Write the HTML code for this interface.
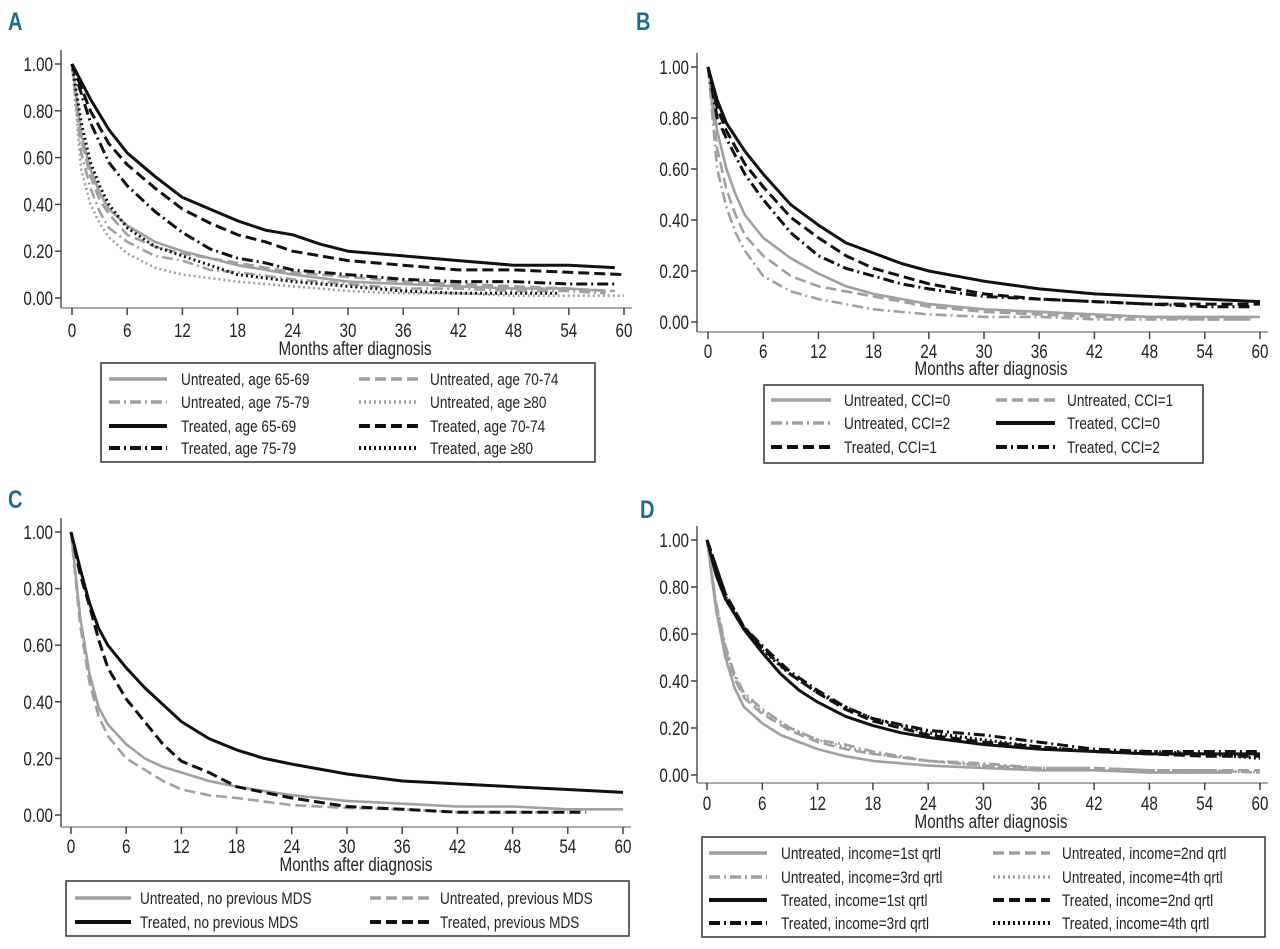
<!DOCTYPE html>
<html><head><meta charset="utf-8"><style>
html,body{margin:0;padding:0;background:#fff;}
svg{display:block;font-family:"Liberation Sans Narrow","Liberation Sans",sans-serif;}
</style></head><body>
<svg id="fig" width="1280" height="949" viewBox="0 0 1280 949" xmlns="http://www.w3.org/2000/svg"></svg>
<script>
// ---------- data: months and survival values per series ----------
const xTickLabels = ["0","6","12","18","24","30","36","42","48","54","60"];
const yTickLabels = ["0.00","0.20","0.40","0.60","0.80","1.00"];

// Panel A (age)
const aU6569M = [0,1,2,3,4,6,9,12,15,18,24,30,36,42,48,54,58];
const aU6569V = [1,.70,.55,.45,.38,.31,.24,.20,.17,.14,.10,.07,.06,.05,.04,.04,.03];
const aU7074M = [0,1,2,3,4,6,9,12,18,24,30,36,42,48,54,59];
const aU7074V = [1,.68,.52,.42,.36,.27,.22,.19,.15,.11,.09,.07,.06,.05,.04,.03];
const aU7579M = [0,1,2,3,4,6,9,12,15,18,24,30,36,42,48,54,58];
const aU7579V = [1,.62,.47,.37,.30,.24,.18,.16,.12,.11,.08,.06,.04,.04,.03,.03,.02];
const aU80M = [0,1,2,3,4,6,9,12,18,24,30,36,42,48,54,60];
const aU80V = [1,.55,.40,.32,.26,.19,.13,.10,.07,.05,.03,.02,.02,.01,.01,.01];
const aT6569M = [0,2,4,6,9,12,15,18,21,24,27,30,36,42,48,54,59];
const aT6569V = [1,.85,.72,.62,.52,.43,.38,.33,.29,.27,.23,.20,.18,.16,.14,.14,.13];
const aT7074M = [0,2,4,6,9,12,15,18,21,24,30,36,42,48,54,60];
const aT7074V = [1,.80,.66,.57,.47,.38,.32,.27,.24,.20,.16,.14,.12,.12,.11,.10];
const aT7579M = [0,2,4,6,9,12,15,18,21,24,30,36,42,48,54,59];
const aT7579V = [1,.75,.58,.48,.37,.28,.21,.17,.15,.12,.10,.08,.07,.07,.06,.06];
const aT80M = [0,1,2,3,4,6,9,12,15,18,24,30,36,42,48,53];
const aT80V = [1,.75,.58,.48,.40,.30,.22,.18,.14,.10,.07,.05,.03,.02,.02,.02];

// Panel B (CCI)
const bU0M = [0,1,2,3,4,6,9,12,15,18,24,30,36,42,48,54,60];
const bU0V = [1,.75,.60,.50,.42,.33,.25,.19,.14,.11,.07,.05,.04,.03,.02,.02,.02];
const bU1M = [0,1,2,3,4,6,9,12,18,24,30,36,42,48,54,59];
const bU1V = [1,.68,.52,.42,.34,.26,.18,.14,.10,.06,.04,.03,.02,.02,.01,.01];
const bU2M = [0,1,2,3,4,6,9,12,18,24,30,36,42,48,54,58];
const bU2V = [1,.60,.45,.35,.28,.18,.12,.09,.05,.03,.02,.02,.01,.01,.01,.01];
const bT0M = [0,1,2,4,6,9,12,15,18,21,24,30,36,42,48,54,60];
const bT0V = [1,.87,.78,.67,.58,.46,.38,.31,.27,.23,.20,.16,.13,.11,.10,.09,.08];
const bT1M = [0,1,2,4,6,9,12,15,18,21,24,30,36,42,48,54,60];
const bT1V = [1,.84,.75,.62,.53,.41,.33,.26,.21,.18,.15,.11,.09,.08,.07,.07,.07];
const bT2M = [0,1,2,4,6,9,12,15,18,21,24,30,36,42,48,54,59];
const bT2V = [1,.80,.72,.58,.48,.35,.26,.21,.18,.15,.13,.10,.09,.08,.07,.06,.06];

// Panel C (previous MDS)
const cUnoM = [0,1,2,3,4,6,8,10,12,15,18,24,30,36,42,48,54,60];
const cUnoV = [1,.70,.50,.38,.32,.25,.20,.17,.15,.12,.10,.07,.05,.04,.03,.03,.02,.02];
const cUprM = [0,1,2,3,4,6,8,10,12,15,18,24,30,36,42,48,54];
const cUprV = [1,.67,.47,.35,.28,.20,.16,.12,.09,.07,.06,.035,.025,.02,.01,.01,.01];
const cTnoM = [0,1,2,3,4,6,8,10,12,15,18,21,24,30,36,42,48,54,60];
const cTnoV = [1,.87,.75,.66,.60,.52,.45,.39,.33,.27,.23,.20,.18,.145,.12,.11,.10,.09,.08];
const cTprM = [0,1,2,3,4,6,8,10,12,15,18,21,24,30,36,42,48,56];
const cTprV = [1,.85,.74,.62,.52,.41,.33,.25,.19,.15,.10,.08,.06,.03,.02,.01,.01,.01];

// Panel D (income)
const dU1M = [0,1,2,3,4,6,8,10,12,15,18,21,24,30,36,42,48,54,57];
const dU1V = [1,.70,.50,.37,.29,.22,.17,.14,.11,.08,.06,.05,.04,.03,.02,.02,.01,.01,.01];
const dU2M = [0,1,2,3,4,6,9,12,15,18,24,30,36,42,48,54,60];
const dU2V = [1,.72,.53,.41,.33,.26,.19,.14,.11,.09,.06,.04,.03,.03,.02,.02,.02];
const dU3M = [0,1,2,3,4,6,9,12,15,18,24,30,36,42,48,54,60];
const dU3V = [1,.73,.55,.43,.35,.28,.20,.15,.13,.10,.06,.05,.03,.03,.02,.02,.01];
const dU4M = [0,1,2,3,4,6,9,12,18,24,30,36,42,48,54,60];
const dU4V = [1,.72,.54,.42,.34,.27,.20,.15,.09,.06,.04,.03,.02,.02,.02,.01];
const dT1M = [0,1,2,4,6,8,10,12,15,18,21,24,30,36,42,48,54,60];
const dT1V = [1,.85,.75,.62,.52,.43,.36,.31,.25,.21,.18,.16,.13,.11,.10,.09,.09,.09];
const dT2M = [0,2,4,6,9,12,15,18,24,30,36,42,48,54,60];
const dT2V = [1,.77,.63,.54,.43,.35,.28,.23,.17,.14,.12,.10,.09,.08,.08];
const dT3M = [0,2,4,6,9,12,15,18,24,30,36,42,48,54,60];
const dT3V = [1,.77,.63,.55,.44,.36,.29,.24,.19,.17,.14,.11,.10,.10,.10];
const dT4M = [0,2,4,6,9,12,15,18,24,30,36,42,48,54,60];
const dT4V = [1,.76,.62,.53,.43,.35,.29,.24,.18,.15,.12,.10,.10,.09,.07];

// ---------- styles ----------
const GRAY = "#a0a0a0", BLACK = "#111";
const ST = { solid:"", dash:"11 5", dashdot:"11 4 2 4", dot:"2 3" };
const CONDENSE = 0.8;

const panels = [
 {key:"a", letter:"A", lx:8, ly:30, axX:61, ox:72, ex:624, y0:298, y1:64, axY:308,
  tickLY:337, titleY:355, titleX:355,
  leg:{x:101,y:363,w:494,h:99, rows:[379,402,426,448], s1:[109,167], t1:181, s2:[359,418], t2:430},
  series:[
   ["untreated-age-65-69","Untreated, age 65-69",GRAY,"solid",aU6569M,aU6569V],
   ["untreated-age-70-74","Untreated, age 70-74",GRAY,"dash",aU7074M,aU7074V],
   ["untreated-age-75-79","Untreated, age 75-79",GRAY,"dashdot",aU7579M,aU7579V],
   ["untreated-age-80plus","Untreated, age \u226580",GRAY,"dot",aU80M,aU80V],
   ["treated-age-65-69","Treated, age 65-69",BLACK,"solid",aT6569M,aT6569V],
   ["treated-age-70-74","Treated, age 70-74",BLACK,"dash",aT7074M,aT7074V],
   ["treated-age-75-79","Treated, age 75-79",BLACK,"dashdot",aT7579M,aT7579V],
   ["treated-age-80plus","Treated, age \u226580",BLACK,"dot",aT80M,aT80V]]},
 {key:"b", letter:"B", lx:636, ly:30, axX:697, ox:708, ex:1260, y0:322, y1:67, axY:332,
  tickLY:358, titleY:375, titleX:991,
  leg:{x:764,y:385,w:439,h:78, rows:[400,423,447], s1:[771,831], t1:844, s2:[996,1055], t2:1067},
  series:[
   ["untreated-cci-0","Untreated, CCI=0",GRAY,"solid",bU0M,bU0V],
   ["untreated-cci-1","Untreated, CCI=1",GRAY,"dash",bU1M,bU1V],
   ["untreated-cci-2","Untreated, CCI=2",GRAY,"dashdot",bU2M,bU2V],
   ["treated-cci-0","Treated, CCI=0",BLACK,"solid",bT0M,bT0V],
   ["treated-cci-1","Treated, CCI=1",BLACK,"dash",bT1M,bT1V],
   ["treated-cci-2","Treated, CCI=2",BLACK,"dashdot",bT2M,bT2V]]},
 {key:"c", letter:"C", lx:8, ly:508, axX:61, ox:71, ex:623, y0:815, y1:532, axY:827,
  tickLY:853, titleY:871, titleX:356,
  leg:{x:66,y:881,w:563,h:55, rows:[898,922], s1:[75,131], t1:140, s2:[370,429], t2:440},
  series:[
   ["untreated-no-previous-mds","Untreated, no previous MDS",GRAY,"solid",cUnoM,cUnoV],
   ["untreated-previous-mds","Untreated, previous MDS",GRAY,"dash",cUprM,cUprV],
   ["treated-no-previous-mds","Treated, no previous MDS",BLACK,"solid",cTnoM,cTnoV],
   ["treated-previous-mds","Treated, previous MDS",BLACK,"dash",cTprM,cTprV]]},
 {key:"d", letter:"D", lx:640, ly:518, axX:697, ox:707, ex:1260, y0:775, y1:540, axY:783,
  tickLY:810, titleY:828, titleX:991,
  leg:{x:702,y:837,w:563,h:100, rows:[853,877,900,923], s1:[709,767], t1:781, s2:[993,1050], t2:1062},
  series:[
   ["untreated-income-q1","Untreated, income=1st qrtl",GRAY,"solid",dU1M,dU1V],
   ["untreated-income-q2","Untreated, income=2nd qrtl",GRAY,"dash",dU2M,dU2V],
   ["untreated-income-q3","Untreated, income=3rd qrtl",GRAY,"dashdot",dU3M,dU3V],
   ["untreated-income-q4","Untreated, income=4th qrtl",GRAY,"dot",dU4M,dU4V],
   ["treated-income-q1","Treated, income=1st qrtl",BLACK,"solid",dT1M,dT1V],
   ["treated-income-q2","Treated, income=2nd qrtl",BLACK,"dash",dT2M,dT2V],
   ["treated-income-q3","Treated, income=3rd qrtl",BLACK,"dashdot",dT3M,dT3V],
   ["treated-income-q4","Treated, income=4th qrtl",BLACK,"dot",dT4M,dT4V]]}
];

const NS = "http://www.w3.org/2000/svg";
const svg = document.getElementById("fig");
function mk(tag, attrs, parent, text){
  const e = document.createElementNS(NS, tag);
  for (const k in attrs) e.setAttribute(k, attrs[k]);
  if (text !== undefined) e.textContent = text;
  parent.appendChild(e);
  return e;
}
function condense(t){
  const len = t.getComputedTextLength();
  if (len > 0) {
    t.setAttribute("textLength", (len * CONDENSE).toFixed(1));
    t.setAttribute("lengthAdjust", "spacingAndGlyphs");
  }
}

panels.forEach(p => {
  const g = mk("g", {}, svg);
  
  
  const sx = m => p.ox + (p.ex - p.ox) * m / 60;
  const sy = v => p.y0 + (p.y1 - p.y0) * v;

  const lab = mk("text", {x:p.lx, y:p.ly, "font-size":25, "font-weight":"bold", fill:"#1d6b8e"}, g, p.letter);
  
  
  condense(lab);

  const yAxis = mk("line", {x1:p.axX, y1:sy(1)-14, x2:p.axX, y2:p.axY, stroke:"#555", "stroke-width":1.5}, g);
  
  
  const xAxis = mk("line", {x1:p.axX, y1:p.axY, x2:p.ex+8, y2:p.axY, stroke:"#777", "stroke-width":1.2}, g);
  
  

  yTickLabels.forEach((t, i) => {
    const v = i * 0.2;
    mk("line", {x1:p.axX-6, y1:sy(v), x2:p.axX, y2:sy(v), stroke:"#444", "stroke-width":1.5}, g);
    const tl = mk("text", {x:p.axX-8, y:sy(v)+7, "font-size":19, "text-anchor":"end", fill:"#222"}, g, t);
    
    
    condense(tl);
  });
  xTickLabels.forEach((t, i) => {
    const m = i * 6;
    mk("line", {x1:sx(m), y1:p.axY, x2:sx(m), y2:p.axY+7, stroke:"#444", "stroke-width":1.5}, g);
    const tl = mk("text", {x:sx(m), y:p.tickLY, "font-size":19, "text-anchor":"middle", fill:"#222"}, g, t);
    
    
    condense(tl);
  });
  const ttl = mk("text", {x:p.titleX, y:p.titleY, "font-size":19, "text-anchor":"middle", fill:"#222"}, g, "Months after diagnosis");
  
  
  condense(ttl);

  p.series.forEach(s => {
    const [name, , color, style, ms, vs] = s;
    const pts = ms.map((m, i) => sx(m).toFixed(1) + "," + sy(vs[i]).toFixed(1)).join(" ");
    const pl = mk("polyline", {points:pts, fill:"none", stroke:color,
      "stroke-width": color === BLACK ? 3 : 2.6, "stroke-dasharray":ST[style], "stroke-linejoin":"round"}, g);
    
    
  });

  const L = p.leg;
  const lg = mk("g", {}, g);
  
  
  mk("rect", {x:L.x, y:L.y, width:L.w, height:L.h, fill:"#fff", stroke:"#333", "stroke-width":1.5}, lg);
  p.series.forEach((s, i) => {
    const [name, label, color, style] = s;
    const row = Math.floor(i / 2), col = i % 2;
    const yy = L.rows[row];
    const ss = col === 0 ? L.s1 : L.s2;
    const tx = col === 0 ? L.t1 : L.t2;
    const e = mk("g", {}, lg);
    
    
    mk("line", {x1:ss[0], y1:yy, x2:ss[1], y2:yy, stroke:color, "stroke-width":color === BLACK ? 4 : 3.5, "stroke-dasharray":ST[style]}, e);
    const t = mk("text", {x:tx, y:yy+6, "font-size":17, fill:"#222"}, e, label);
    condense(t);
  });
});
</script>
</body></html>
